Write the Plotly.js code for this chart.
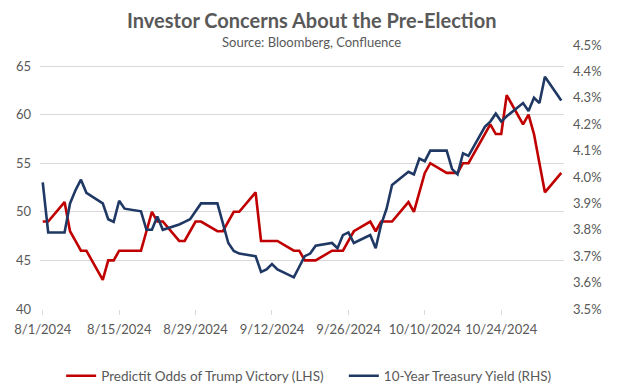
<!DOCTYPE html>
<html>
<head>
<meta charset="utf-8">
<script src="https://cdn.plot.ly/plotly-3.0.1.min.js"></script>
<style>
html,body{margin:0;padding:0;background:#fff;}
#chart{width:624px;height:392px;}
</style>
</head>
<body>
<div id="chart"></div>
<script>
// Trading dates
const dates = [
 "2024-08-01","2024-08-02","2024-08-05","2024-08-06","2024-08-07","2024-08-08","2024-08-09",
 "2024-08-12","2024-08-13","2024-08-14","2024-08-15","2024-08-16",
 "2024-08-19","2024-08-20","2024-08-21","2024-08-22","2024-08-23",
 "2024-08-26","2024-08-27","2024-08-28","2024-08-29","2024-08-30",
 "2024-09-02","2024-09-03","2024-09-04","2024-09-05","2024-09-06",
 "2024-09-09","2024-09-10","2024-09-11","2024-09-12","2024-09-13",
 "2024-09-16","2024-09-17","2024-09-18","2024-09-19","2024-09-20",
 "2024-09-23","2024-09-24","2024-09-25","2024-09-26","2024-09-27",
 "2024-09-30","2024-10-01","2024-10-02","2024-10-03","2024-10-04",
 "2024-10-07","2024-10-08","2024-10-09","2024-10-10","2024-10-11",
 "2024-10-14","2024-10-15","2024-10-16","2024-10-17","2024-10-18",
 "2024-10-21","2024-10-22","2024-10-23","2024-10-24","2024-10-25",
 "2024-10-28","2024-10-29","2024-10-30","2024-10-31","2024-11-01",
 "2024-11-04"
];
// PredictIt odds of Trump victory (LHS, cents)
const predictit = [
 49,49,51,48,47,46,46,
 43,45,45,46,46,
 46,48,50,49,49,
 47,47,48,49,49,
 48,48,49,50,50,
 52,47,47,47,47,
 46,46,45,45,45,
 46,46,46,47,48,
 49,48,49,49,49,
 51,50,52,54,55,
 54,54,54,55,55,
 58,59,58,58,62,
 59,60,58,55,52,
 54
];
// 10-Year Treasury yield (RHS, %)
const yield10 = [
 3.98,3.79,3.79,3.90,3.95,3.99,3.94,
 3.90,3.84,3.83,3.91,3.88,
 3.87,3.80,3.80,3.85,3.80,
 3.82,3.83,3.84,3.87,3.90,
 3.90,3.82,3.75,3.72,3.71,
 3.70,3.64,3.65,3.67,3.65,
 3.62,3.66,3.70,3.71,3.74,
 3.75,3.73,3.78,3.79,3.75,
 3.78,3.73,3.82,3.88,3.97,
 4.02,4.01,4.07,4.06,4.10,
 4.10,4.03,4.01,4.09,4.08,
 4.19,4.21,4.24,4.21,4.23,
 4.28,4.25,4.30,4.28,4.38,
 4.29
];
const xTickVals = ["2024-08-01","2024-08-15","2024-08-29","2024-09-12","2024-09-26","2024-10-10","2024-10-24"];
const xTickText = ["8/1/2024","8/15/2024","8/29/2024","9/12/2024","9/26/2024","10/10/2024","10/24/2024"];
const leftTicks = [40,45,50,55,60,65];
const rightTicks = [3.5,3.6,3.7,3.8,3.9,4.0,4.1,4.2,4.3,4.4,4.5];
const rightTickText = ["3.5%","3.6%","3.7%","3.8%","3.9%","4.0%","4.1%","4.2%","4.3%","4.4%","4.5%"];

const FONT = "Lato, 'Open Sans', sans-serif";
const GREY = "#595959";

const traces = [
 {x: dates, y: predictit, type: "scatter", mode: "lines", name: "Predictit Odds of Trump Victory (LHS)",
  line: {color: "#C00000", width: 2.6}, yaxis: "y", legend: "legend"},
 {x: dates, y: yield10, type: "scatter", mode: "lines", name: "10-Year Treasury Yield (RHS)",
  line: {color: "#1F3864", width: 2.6}, yaxis: "y2", legend: "legend2"}
];

const legendBase = {orientation: "h", xref: "container", yref: "container",
  xanchor: "left", y: 0.041, yanchor: "middle",
  font: {family: FONT, size: 13.5, color: GREY}};

const layout = {
 width: 624, height: 392,
 margin: {l: 40, r: 60, t: 45, b: 83},
 paper_bgcolor: "#fff", plot_bgcolor: "#fff",
 font: {family: FONT, color: GREY, size: 13},
 showlegend: true,
 legend: Object.assign({}, legendBase, {x: 0.098}),
 legend2: Object.assign({}, legendBase, {x: 0.551}),
 xaxis: {type: "date", range: ["2024-07-31 12:00", "2024-11-04 12:00"],
  tickvals: xTickVals, ticktext: xTickText, showgrid: false, zeroline: false,
  showline: false, ticks: "outside", ticklen: 5, tickcolor: "#d9d9d9",
  ticklabelstandoff: 3, tickfont: {size: 13, color: GREY}},
 yaxis: {range: [40, 67.16], tickvals: leftTicks, showgrid: true, gridcolor: "#d9d9d9",
  gridwidth: 1, zeroline: false, showline: false, ticks: "", ticklabelstandoff: 8,
  tickfont: {size: 13, color: GREY}},
 yaxis2: {range: [3.5, 4.5], overlaying: "y", side: "right", tickvals: rightTicks,
  ticktext: rightTickText, showgrid: false, zeroline: false, showline: false, ticks: "",
  ticklabelstandoff: 8, tickfont: {size: 13, color: GREY}},
 annotations: [
  {text: "<b>Investor Concerns About the Pre-Election</b>", xref: "paper", yref: "paper",
   x: 0.519, y: 1.096, xanchor: "center", yanchor: "middle", showarrow: false,
   font: {family: FONT, size: 20, color: GREY}},
  {text: "Source: Bloomberg, Confluence", xref: "paper", yref: "paper",
   x: 0.519, y: 1.013, xanchor: "center", yanchor: "middle", showarrow: false,
   font: {family: FONT, size: 13, color: GREY}}
 ]
};

Plotly.newPlot("chart", traces, layout, {displayModeBar: false, staticPlot: true});
</script>
</body>
</html>
